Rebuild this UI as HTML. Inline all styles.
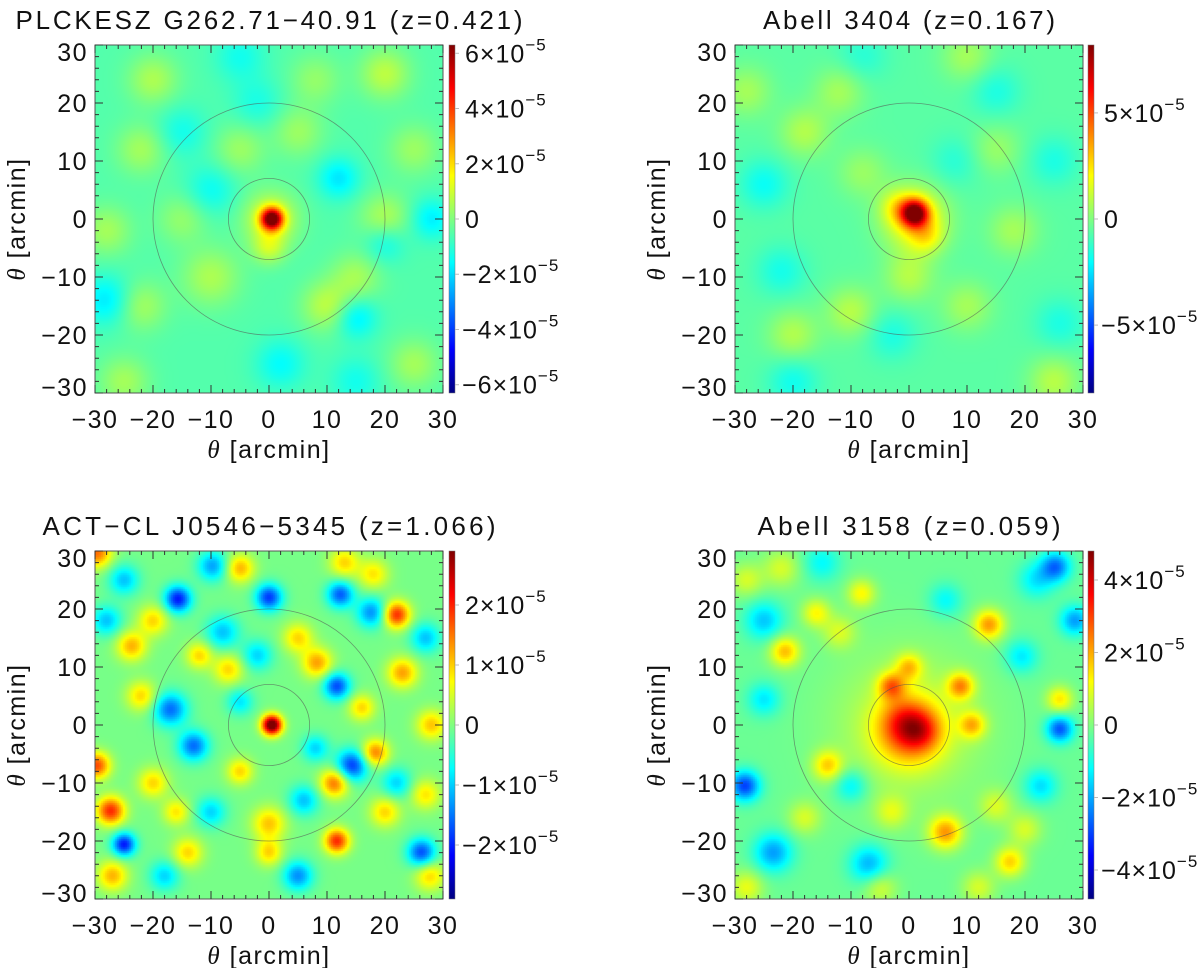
<!DOCTYPE html>
<html><head><meta charset="utf-8">
<style>
html,body{margin:0;padding:0;background:#fff;}
#wrap{position:relative;width:1200px;height:968px;overflow:hidden;font-family:"Liberation Sans",sans-serif;}
canvas{position:absolute;}
svg{position:absolute;left:0;top:0;}
</style></head>
<body>
<div id="wrap">
<canvas id="c0" width="348" height="348" style="left:95px;top:45px"></canvas>
<canvas id="c1" width="348" height="348" style="left:735px;top:45px"></canvas>
<canvas id="c2" width="348" height="348" style="left:95px;top:551px"></canvas>
<canvas id="c3" width="348" height="348" style="left:735px;top:551px"></canvas>
<svg id="ov" width="1200" height="968"></svg>
</div>
<script>
// Panel titles
const titles = ["PLCKESZ G262.71\u221240.91 (z=0.421)", "Abell 3404 (z=0.167)", "ACT\u2212CL J0546\u22125345 (z=1.066)", "Abell 3158 (z=0.059)"];
const titleWidths = [507, 292, 453, 303];
// colour ranges (units of 1e-5)
const ranges = [6.3, 8.2, 2.9, 4.8];
const cbTicks = [[6,4,2,0,-2,-4,-6],[5,0,-5],[2,1,0,-1,-2],[4,2,0,-2,-4]];
const axisTicks = [-30,-20,-10,0,10,20,30];
const bgLevels = [-0.55, -0.6, -0.05, -0.2];
// blobs: [x arcmin, y arcmin, amplitude (1e-5), sigma arcmin]
const blobs0 = [[0.5,0,6.5,1.3],[0.3,0,1.8,3.2],[20,25,1.3,3],[-20,24,1.1,3],[-22,12,1.0,3],[20,0,1.2,3],[-28,-2,1.0,3],[10,-15,1.3,3],[-10,-10,1.1,3.5],[-22,-15,1.0,3],[15,-10,1.0,3],[-25,-28,1.0,3],[25,-25,1.0,3],[5,15,0.9,3],[-5,12,0.9,3],[25,12,0.9,3],[0,-5,1.2,2],[-28,-14,-1.3,3],[15,-17,-1.3,2.5],[12,7,-1.3,2.5],[-10,5,-0.9,3],[-15,15,-0.8,3],[28,0,-1.2,2.5],[2,-25,-1.0,3],[-5,28,-0.8,3],[15,-28,-0.8,3],[20,-4,-1.0,2.5],[-15,0,0.8,3],[8,24,0.8,3],[-2,20,-0.7,3]];
const blobs1 = [[1,1,7.5,1.6],[1,0,3,3.8],[-2,2,1.5,2],[3,-3,1.5,2],[0,-10,1.4,3],[-10,-16,1.5,3],[-20,-20,1.4,3],[-18,15,1.4,3],[-12,22,1.2,3],[10,28,1.2,3],[18,-2,1.2,3],[25,-28,1.5,3],[10,-15,1.2,3],[-28,22,1.2,3],[-25,6,-1.3,3],[-22,-9,-1.1,3],[15,22,-1.0,3],[-3,-20,-1.0,3],[-20,-28,-1.2,3],[25,10,-1.0,3],[8,10,-0.8,3],[-8,28,-0.8,3],[26,-18,-1.0,3],[-8,8,1.0,3],[15,12,1.0,3]];
const blobs2 = [[0.5,0,3.4,1.2],[22,19,2.0,1.6],[-15.7,21.7,-2.0,1.6],[0,22,-1.8,1.6],[12.3,22.5,-1.6,1.6],[-25,-20.6,-2.0,1.4],[-27.3,-14.8,2.0,1.7],[-29.7,-7,1.8,1.6],[11.7,-20,2.0,1.5],[11.3,-10,1.6,1.7],[14.3,-7,-1.8,1.9],[11.7,6.7,-1.7,1.6],[-17,2.7,-1.5,2],[-13,-3.6,-1.5,1.8],[26.3,-22,-1.7,1.7],[8.3,10.7,1.3,1.8],[-29.7,29.7,1.6,1.8],[18.3,-4.8,1.5,1.6],[-23.7,13.6,1.2,1.8],[17.7,19.4,-1.3,1.8],[23,9,1.3,1.8],[-7,9.6,1.0,1.8],[5,-26,-1.3,1.8],[27.7,-26,1.0,1.8],[-9.7,27.4,-1.2,1.8],[-5,27,1.2,1.7],[-27,-26,1.2,1.8],[0,-17,1.1,2],[-20,-10,1.0,1.8],[-5,-8,1.0,1.6],[5,15,1.0,1.8],[-25,25,-1.0,1.8],[27,15,-1.0,1.8],[20,-15,1.0,1.8],[-14,-22,1.0,1.8],[6,-13,-1.0,1.8],[-8,16,-1.0,2],[28,0,1.1,1.8],[-22,5,1.0,1.8],[13,28,1.0,1.8],[-18,-26,-0.9,1.8],[-12,12,1.0,1.6],[-20,18,1.0,1.8],[18,26,0.9,1.8],[-2,12,-0.9,1.8],[22,-10,-0.9,1.8],[-10,-15,-0.9,1.8],[8,-4,-0.9,1.6],[0,-22,1.0,1.6],[-28,18,-1.0,1.8],[27,-12,0.9,1.8],[-16,-15,0.9,1.6],[16,3,1.0,1.6],[-5,4,-0.8,1.6]];
const blobs3 = [[0,-1,2.6,3.8],[2,-1,1.3,2.3],[-1,1,0.8,2.5],[0,0,0.9,9],[13.8,17.3,2.3,1.8],[-21.4,12.7,2.0,1.8],[6.3,-18.5,2.3,2],[-14,-7,1.7,1.8],[17.4,-23.6,1.8,1.8],[8.9,6.7,2.2,1.6],[-3,6.7,2.2,1.6],[0,10,1.6,1.6],[26,4.4,1.6,1.6],[-16,19.3,1.4,1.7],[-8.2,22.7,1.4,1.7],[10.9,0,1.8,1.6],[-28.3,-10.5,-2.8,1.8],[26,-0.7,-2.6,1.6],[25.3,27.3,-2.3,1.8],[28.6,18,-1.9,1.8],[-25,18,-1.5,2.3],[-23.4,-22,-1.9,2.3],[-6.9,-24,-1.7,2.3],[-10,-10.5,-1.2,2],[-25,4.4,-1.2,2],[22.7,-10.5,-1.3,2],[19.4,11.8,-1.2,2],[6.3,21.5,-1.0,2],[-22,27,1.0,2.2],[-28,-28,1.2,2],[15,-14,1.0,2],[22,25,-1.2,2.2],[-15,28,-1.0,2.2],[-28,25,1.0,2],[20,-18,1.0,2],[-18,-16,1.0,2],[-12,16,1.0,2],[12,-28,1.0,2],[-3,-15,1.0,2],[-5,-28,1.0,2]];
const allBlobs = [blobs0, blobs1, blobs2, blobs3];

const panels = [{x:95,y:45,cb:449},{x:735,y:45,cb:1088},{x:95,y:551,cb:449},{x:735,y:551,cb:1088}];
const S = 348, XR = 30;
function jet(t){t=Math.max(0,Math.min(1,t));
  const cl=v=>Math.max(0,Math.min(1,v));
  return [cl(1.5-Math.abs(4*t-3)),cl(1.5-Math.abs(4*t-2)),cl(1.5-Math.abs(4*t-1))].map(v=>Math.round(v*255));}
const sx = v => S/2 + v*S/(2*XR);

allBlobs.forEach((bl,pi)=>{
  const ctx=document.getElementById('c'+pi).getContext('2d');
  const step=2, R=ranges[pi];
  for(let py=0;py<S;py+=step){for(let px=0;px<S;px+=step){
    const ax=(px+1-S/2)/(S/(2*XR)), ay=(S/2-py-1)/(S/(2*XR));
    let v=bgLevels[pi];
    for(const b of bl){const dx=ax-b[0],dy=ay-b[1];v+=b[2]*Math.exp(-(dx*dx+dy*dy)/(2*b[3]*b[3]));}
    const c=jet((v+R)/(2*R));
    ctx.fillStyle=`rgb(${c[0]},${c[1]},${c[2]})`;ctx.fillRect(px,py,step,step);
  }}
});

const NS='http://www.w3.org/2000/svg';
const ov=document.getElementById('ov');
function mk(tag,attrs,parent){const e=document.createElementNS(NS,tag);for(const k in attrs)e.setAttribute(k,attrs[k]);(parent||ov).appendChild(e);return e;}
const tc='#333';
panels.forEach((p,pi)=>{
  const g=mk('g',{});
  
  
  const cx=p.x+S/2, cy=p.y+S/2;
  [20,7].forEach(r=>{const c=mk('circle',{cx:cx,cy:cy,r:r*S/(2*XR),fill:'none',stroke:'#555','stroke-width':0.8,'stroke-opacity':0.6},g);
    
    });
  const fr=mk('rect',{x:p.x,y:p.y,width:S,height:S,fill:'none',stroke:'#555','stroke-width':1},g);
  
  
  let d='';
  for(let v=-30;v<=30;v+=2){const L=(v%10===0)?8:4;const xx=p.x+sx(v),yy=p.y+S-sx(v);
    d+=`M${xx},${p.y+S}v${-L}M${xx},${p.y}v${L}M${p.x},${yy}h${L}M${p.x+S},${yy}h${-L}`;}
  const tk=mk('path',{d:d,stroke:tc,'stroke-width':1,fill:'none'},g);
  
  
  axisTicks.forEach(v=>{
    const t=mk('text',{x:p.x+sx(v),y:p.y+S+35,'text-anchor':'middle','font-size':25,fill:'#111','letter-spacing':1.5},g);
    t.textContent=(v<0?'\u2212':'')+Math.abs(v);
    
    
    let yy=p.y+S-sx(v)+9; if(v===30)yy+=7; if(v===-30)yy-=6;
    const t2=mk('text',{x:p.x-7,y:yy,'text-anchor':'end','font-size':25,fill:'#111','letter-spacing':1.5},g);
    t2.textContent=(v<0?'\u2212':'')+Math.abs(v);
    
    
  });
  const xt=mk('text',{x:cx,y:p.y+S+65,'text-anchor':'middle','font-size':25,fill:'#111','letter-spacing':1.5},g);
  xt.innerHTML='<tspan font-family="Liberation Serif" font-style="italic">\u03b8</tspan> [arcmin]';
  
  
  const yt=mk('text',{x:0,y:0,'text-anchor':'middle','font-size':25,fill:'#111','letter-spacing':1.5,transform:`translate(${p.x-70},${cy}) rotate(-90)`},g);
  yt.innerHTML='<tspan font-family="Liberation Serif" font-style="italic">\u03b8</tspan> [arcmin]';
  
  
  const tt=mk('text',{x:cx,y:p.y-16,'text-anchor':'middle','font-size':26,fill:'#111',textLength:titleWidths[pi],lengthAdjust:'spacing'},g);
  tt.textContent=titles[pi];
  
  
  const defs=mk('defs',{},g);
  const lg=mk('linearGradient',{id:'jg'+pi,x1:0,y1:1,x2:0,y2:0},defs);
  for(let i=0;i<=16;i++){const c=jet(i/16);mk('stop',{offset:i/16,'stop-color':`rgb(${c})`},lg);}
  const cb=mk('rect',{x:p.cb,y:p.y,width:6,height:S,fill:`url(#jg${pi})`,stroke:'#777','stroke-width':0.5},g);
  
  
  const R=ranges[pi];
  cbTicks[pi].forEach(v=>{
    const yy=p.y+S/2-v/R*S/2;
    mk('line',{x1:p.cb+6,x2:p.cb+10,y1:yy,y2:yy,stroke:'#bbb','stroke-width':1},g);
    const t=mk('text',{x:p.cb+(v<0?13:16),y:yy+9,'font-size':25,fill:'#111','letter-spacing':1},g);
    if(v===0){t.textContent='0';}
    else{t.innerHTML=(v<0?'\u2212':'')+Math.abs(v)+'\u00d710<tspan dy="-12" font-size="17">\u22125</tspan>';}
    
    
  });
});
</script>
</body></html>
